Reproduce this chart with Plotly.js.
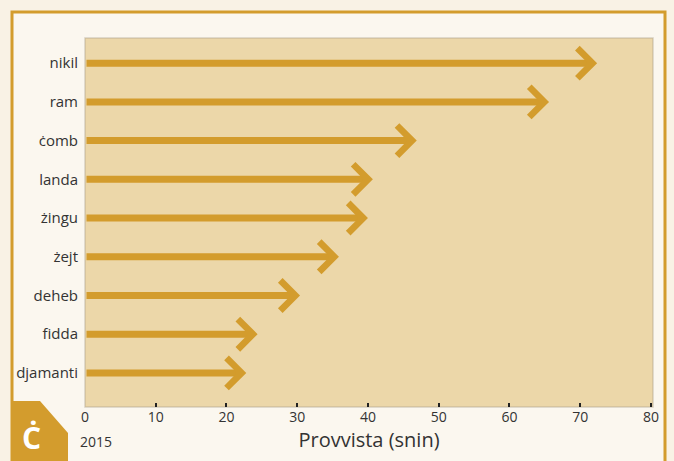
<!DOCTYPE html>
<html>
<head>
<meta charset="utf-8">
<script src="https://cdn.plot.ly/plotly-3.0.1.min.js"></script>
<style>
html,body{margin:0;padding:0;background:#f9f2e5;}
#chart{width:674px;height:461px;}
svg text{font-variant-ligatures:none;}
</style>
</head>
<body>
<div id="chart"></div>
<script>
const categories = ["nikil","ram","ċomb","landa","żingu","żejt","deheb","fidda","djamanti"];
const values = [72.4, 65.6, 46.9, 40.7, 40.0, 35.9, 30.4, 24.4, 22.8];
const xTickValues = [0,10,20,30,40,50,60,70,80];
const xTitle = "Provvista (snin)";
const yearLabel = "2015";
const badgeLetter = "Ċ";

const W = 674, H = 461;
const M = {l:85, r:21, t:38, b:54};
const pw = W - M.l - M.r, ph = H - M.t - M.b;
const px = x => (x - M.l) / pw;
const py = y => (H - M.b - y) / ph;

const orange = "#d39c2d";
const font = "'Open Sans', sans-serif";

const order = categories.slice().reverse();

const annotations = categories.map((c, i) => ({
  x: values[i], y: c, xref: "x", yref: "y",
  ax: 0, ay: c, axref: "x", ayref: "y",
  text: "", showarrow: true, arrowhead: 4, arrowsize: 0.83,
  arrowwidth: 7, arrowcolor: orange, standoff: 0
}));

annotations.push({
  x: px(31), y: py(437), xref: "paper", yref: "paper",
  text: badgeLetter, showarrow: false,
  font: {family: font, size: 30, color: "#ffffff", weight: "bold"},
  xanchor: "center", yanchor: "middle"
});
annotations.push({
  x: px(78), y: py(441), xref: "paper", yref: "paper",
  text: yearLabel, showarrow: false,
  font: {family: font, size: 14, color: "#333"},
  xanchor: "left", yanchor: "middle"
});

const shapes = [
  {type: "rect", xref: "paper", yref: "paper", x0: px(12), x1: px(665), y0: py(490), y1: py(12),
   line: {color: orange, width: 3}, fillcolor: "#fbf7ef", layer: "below"},
  {type: "rect", xref: "paper", yref: "paper", x0: 0, x1: 1, y0: 0, y1: 1,
   line: {color: "rgba(170,160,140,0.45)", width: 1.5}, fillcolor: "#ecd7a9", layer: "below"},
  {type: "path", xref: "paper", yref: "paper", layer: "above",
   path: `M${px(11)},${py(401)} L${px(40)},${py(401)} L${px(68)},${py(433)} L${px(68)},${py(470)} L${px(11)},${py(470)} Z`,
   fillcolor: orange, line: {width: 0}}
];

const trace = {
  type: "scatter", mode: "markers", x: values, y: categories,
  marker: {opacity: 0}, hoverinfo: "skip", showlegend: false
};

const layout = {
  width: W, height: H,
  margin: M,
  paper_bgcolor: "rgba(0,0,0,0)",
  plot_bgcolor: "rgba(0,0,0,0)",
  font: {family: font, color: "#333"},
  xaxis: {
    range: [0, 80.3], tickvals: xTickValues, ticks: "inside", ticklen: 4, tickwidth: 2,
    tickcolor: "#222", showgrid: false, zeroline: false, showline: false,
    tickfont: {size: 14, color: "#333"},
    title: {text: xTitle, font: {size: 20, color: "#333"}, standoff: 3}
  },
  yaxis: {
    type: "category", categoryorder: "array", categoryarray: order,
    range: [-0.88, 8.65], showgrid: false, zeroline: false, showline: false,
    ticks: "", ticklabelstandoff: 6, tickfont: {size: 15, color: "#333"}
  },
  shapes: shapes,
  annotations: annotations
};

Plotly.newPlot("chart", [trace], layout, {displayModeBar: false, staticPlot: true});
</script>
</body>
</html>
